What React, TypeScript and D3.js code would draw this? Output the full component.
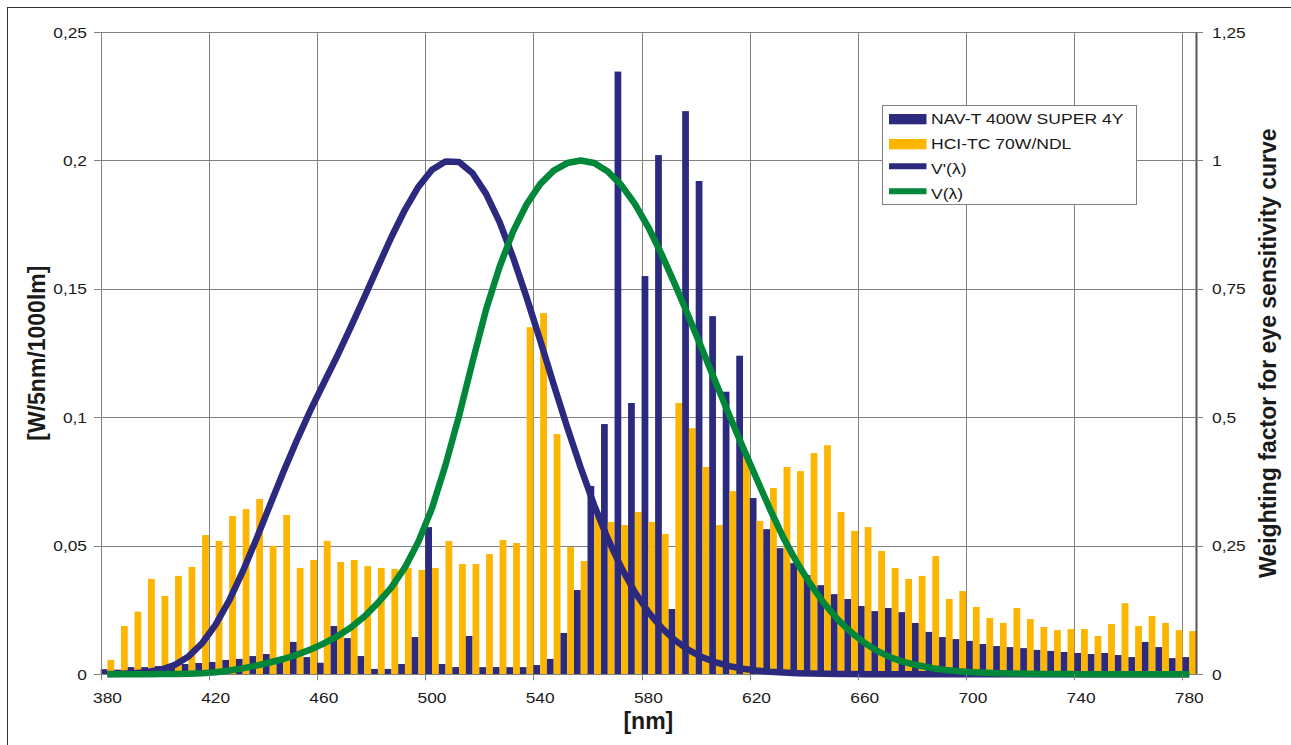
import React from 'react';
import * as d3 from 'd3';

const wavelengths = [
  380, 385, 390, 395, 400, 405, 410, 415, 420, 425, 430, 435, 440, 445, 450, 455, 460, 465, 470, 475,
  480, 485, 490, 495, 500, 505, 510, 515, 520, 525, 530, 535, 540, 545, 550, 555, 560, 565, 570, 575,
  580, 585, 590, 595, 600, 605, 610, 615, 620, 625, 630, 635, 640, 645, 650, 655, 660, 665, 670, 675,
  680, 685, 690, 695, 700, 705, 710, 715, 720, 725, 730, 735, 740, 745, 750, 755, 760, 765, 770, 775, 780,
];

const navT400 = [
  0.002, 0.0018, 0.0028, 0.0028, 0.0032, 0.0036, 0.004, 0.0044, 0.0048, 0.0056, 0.006, 0.0071, 0.0079, 0.0048, 0.0126, 0.0067, 0.0045, 0.0188, 0.0141, 0.0071,
  0.0021, 0.0021, 0.004, 0.0145, 0.0573, 0.004, 0.0028, 0.0149, 0.0028, 0.0028, 0.0028, 0.0028, 0.0036, 0.006, 0.0161, 0.0328, 0.0733, 0.0974, 0.2346, 0.1056,
  0.155, 0.2021, 0.0254, 0.2192, 0.192, 0.1394, 0.11, 0.124, 0.0686, 0.0565, 0.0491, 0.0433, 0.0386, 0.0347, 0.0312, 0.0293, 0.0266, 0.0246, 0.0258, 0.0242,
  0.02, 0.0165, 0.0145, 0.0137, 0.013, 0.0118, 0.011, 0.0106, 0.0102, 0.0095, 0.0091, 0.0087, 0.0083, 0.0079, 0.0083, 0.0075, 0.0067, 0.0126, 0.0106, 0.0063, 0.0067,
];

const hciTC70 = [
  0.0056, 0.0188, 0.0244, 0.0371, 0.0305, 0.0383, 0.0418, 0.0542, 0.0519, 0.0616, 0.0643, 0.0682, 0.05, 0.062, 0.0414, 0.0445, 0.0519, 0.0437, 0.0445, 0.0421,
  0.0414, 0.041, 0.0414, 0.0406, 0.0414, 0.0519, 0.0429, 0.0429, 0.0468, 0.0523, 0.0511, 0.1351, 0.1406, 0.0935, 0.0495, 0.0441, 0.0616, 0.0593, 0.0581, 0.0632,
  0.0593, 0.0546, 0.1056, 0.0958, 0.0807, 0.0581, 0.0713, 0.085, 0.0597, 0.0725, 0.0807, 0.0791, 0.0861, 0.0892, 0.0632, 0.0558, 0.0573, 0.048, 0.0414, 0.0371,
  0.0383, 0.046, 0.0293, 0.0324, 0.0262, 0.0219, 0.02, 0.0258, 0.0215, 0.0184, 0.0172, 0.0176, 0.0176, 0.0149, 0.0196, 0.0277, 0.0188, 0.0227, 0.02, 0.0172, 0.0168,
];

// scotopic V'(λ)
const vPrime = [
  0.000589, 0.001108, 0.002209, 0.00453, 0.00929, 0.01852, 0.03484, 0.0604, 0.0966, 0.1436, 0.1998, 0.2625, 0.3281, 0.3931, 0.455, 0.513, 0.567, 0.62, 0.676, 0.734,
  0.793, 0.851, 0.904, 0.949, 0.982, 0.998, 0.997, 0.975, 0.935, 0.88, 0.811, 0.733, 0.65, 0.564, 0.481, 0.402, 0.3288, 0.2639, 0.2076, 0.1602,
  0.1212, 0.0899, 0.0655, 0.0469, 0.03315, 0.02312, 0.01593, 0.01088, 0.00737, 0.00497, 0.003335, 0.002235, 0.001497, 0.001005, 0.000677, 0.000459, 0.000313, 0.000215, 0.000148, 0.000103,
  0.0000715, 0.0000501, 0.0000353, 0.000025, 0.0000178, 0.0000127, 0.00000914, 0.0000066, 0.00000478, 0.00000346, 0.00000251, 0.00000184, 0.00000135, 0.00000099, 0.00000073, 0.00000054, 0.0000004, 0.0000003, 0.00000022, 0.00000017, 0.00000013,
];

// photopic V(λ)
const vPhot = [
  0.000039, 0.000064, 0.00012, 0.000217, 0.000396, 0.00064, 0.00121, 0.00218, 0.004, 0.0073, 0.0116, 0.01684, 0.023, 0.0298, 0.038, 0.048, 0.06, 0.0739, 0.09098, 0.1126,
  0.13902, 0.1693, 0.20802, 0.2586, 0.323, 0.4073, 0.503, 0.6082, 0.71, 0.7932, 0.862, 0.91485, 0.954, 0.9803, 0.99495, 1.0, 0.995, 0.9786, 0.952, 0.9154,
  0.87, 0.8163, 0.757, 0.6949, 0.631, 0.5668, 0.503, 0.4412, 0.381, 0.321, 0.265, 0.217, 0.175, 0.1382, 0.107, 0.0816, 0.061, 0.04458, 0.032, 0.0232,
  0.017, 0.01192, 0.00821, 0.005723, 0.004102, 0.002929, 0.002091, 0.001484, 0.001047, 0.00074, 0.00052, 0.000361, 0.000249, 0.000172, 0.00012, 0.0000848, 0.00006, 0.0000424, 0.00003, 0.0000212, 0.000015,
];

const xTickValues = [380, 420, 460, 500, 540, 580, 620, 660, 700, 740, 780];
const yLeftTicks = [0, 0.05, 0.1, 0.15, 0.2, 0.25];
const yLeftLabels = ['0', '0,05', '0,1', '0,15', '0,2', '0,25'];
const yRightTicks = [0, 0.25, 0.5, 0.75, 1, 1.25];
const yRightLabels = ['0', '0,25', '0,5', '0,75', '1', '1,25'];

const legendLabels = ['NAV-T 400W SUPER 4Y', 'HCI-TC 70W/NDL', "V'(λ)", 'V(λ)'];

const NAVY = '#2b2a7e';
const ORANGE = '#fcb500';
const GREEN = '#00873a';
const GRID = '#808080';
const FONT = "Arial, 'Liberation Sans', Helvetica, sans-serif";

const W = 1291;
const H = 745;
const L = 100.7;
const R = 1196;
const TOP = 32;
const BOT = 674.3;

type TProps = {
  x: number; y: number; anchor?: string; size?: number; sx?: number; weight?: string | number; rotate?: number; children: React.ReactNode;
};
const T = ({ x, y, anchor = 'start', size = 15.5, sx = 1.12, weight = 'normal', rotate = 0, children }: TProps) => (
  <text
    transform={`translate(${x},${y}) rotate(${rotate}) scale(${sx},1)`}
    textAnchor={anchor as any}
    fontSize={size}
    fontWeight={weight as any}
    fontFamily={FONT}
    fill="#1a1a1a"
  >
    {children}
  </text>
);

export default function App() {
  const x = d3.scaleBand<number>().domain(wavelengths).range([L, R]).paddingInner(0).paddingOuter(0);
  const bw = x.bandwidth();
  const y = d3.scaleLinear().domain([0, 0.25]).range([BOT, TOP]);
  const y2 = d3.scaleLinear().domain([0, 1.25]).range([BOT, TOP]);

  const lineGen = d3
    .line<number>()
    .x((_, i) => (x(wavelengths[i]) as number) + bw / 2)
    .y((d) => y2(d));

  const legendX = 882.5;
  const legendY = 105.5;

  return (
    <svg width={W} height={H} style={{ position: 'absolute', left: 0, top: 0, background: '#fff' }}>
      <rect x={0} y={0} width={W} height={H} fill="#fff" />
      {/* outer chart border */}
      <rect x={7.5} y={7.5} width={W + 20} height={H + 20} fill="none" stroke="#333" strokeWidth={1} />

      {/* horizontal gridlines */}
      {yLeftTicks.slice(1).map((t) => (
        <line key={'hg' + t} x1={L} x2={R} y1={Math.round(y(t)) + 0.5} y2={Math.round(y(t)) + 0.5} stroke={GRID} strokeWidth={1} />
      ))}
      {/* vertical gridlines */}
      {xTickValues.slice(1).map((w) => {
        const px = Math.round(x(w) as number) + 0.5;
        return <line key={'vg' + w} x1={px} x2={px} y1={TOP} y2={BOT} stroke={GRID} strokeWidth={1} />;
      })}

      {/* bars */}
      {wavelengths.map((w, i) => {
        const x0 = x(w) as number;
        return (
          <g key={'b' + w}>
            <rect x={x0} y={y(navT400[i])} width={bw / 2} height={BOT - y(navT400[i])} fill={NAVY} />
            <rect x={x0 + bw / 2} y={y(hciTC70[i])} width={bw / 2} height={BOT - y(hciTC70[i])} fill={ORANGE} />
          </g>
        );
      })}

      {/* axes */}
      <line x1={Math.round(L) + 0.5} x2={Math.round(L) + 0.5} y1={TOP} y2={BOT} stroke={GRID} strokeWidth={1} />
      <line x1={R + 0.5} x2={R + 0.5} y1={TOP} y2={BOT + 0.5} stroke="#555" strokeWidth={2} />
      <line x1={L} x2={R} y1={Math.round(BOT) + 0.5} y2={Math.round(BOT) + 0.5} stroke={GRID} strokeWidth={1} />

      {/* curves */}
      <path d={lineGen(vPrime) || ''} fill="none" stroke={NAVY} strokeWidth={6.5} strokeLinejoin="round" strokeLinecap="butt" />
      <path d={lineGen(vPhot) || ''} fill="none" stroke={GREEN} strokeWidth={6.5} strokeLinejoin="round" strokeLinecap="butt" />

      {/* left ticks & labels */}
      {yLeftTicks.map((t, i) => (
        <g key={'yl' + t}>
          <line x1={94} x2={L} y1={Math.round(y(t)) + 0.5} y2={Math.round(y(t)) + 0.5} stroke={GRID} strokeWidth={1} />
          <T x={87} y={y(t) + 5.5} anchor="end">{yLeftLabels[i]}</T>
        </g>
      ))}
      {/* right ticks & labels */}
      {yRightTicks.map((t, i) => (
        <g key={'yr' + t}>
          <line x1={R} x2={1203} y1={Math.round(y2(t)) + 0.5} y2={Math.round(y2(t)) + 0.5} stroke={GRID} strokeWidth={1} />
          <T x={1212} y={y2(t) + 5.5} anchor="start">{yRightLabels[i]}</T>
        </g>
      ))}
      {/* x ticks & labels */}
      {xTickValues.map((w) => {
        const px = Math.round(x(w) as number) + 0.5;
        return (
          <g key={'xt' + w}>
            <line x1={px} x2={px} y1={BOT} y2={BOT + 6} stroke={GRID} strokeWidth={1} />
            <T x={(x(w) as number) + bw / 2} y={703.3} anchor="middle">{String(w)}</T>
          </g>
        );
      })}

      {/* axis titles */}
      <T x={(L + R) / 2} y={729} anchor="middle" size={23} sx={1} weight="bold">[nm]</T>
      <T x={45} y={(TOP + BOT) / 2} anchor="middle" size={23} sx={1} weight="bold" rotate={-90}>[W/5nm/1000lm]</T>
      <T x={1276} y={(TOP + BOT) / 2} anchor="middle" size={23} sx={1} weight="bold" rotate={-90}>Weighting factor for eye sensitivity curve</T>

      {/* legend */}
      <rect x={legendX} y={legendY} width={254} height={99} fill="#fff" stroke={GRID} strokeWidth={1} />
      <rect x={889} y={114} width={37.5} height={10.3} fill={NAVY} />
      <rect x={889} y={139} width={37.5} height={10.3} fill={ORANGE} />
      <line x1={889} x2={926.5} y1={166.2} y2={166.2} stroke={NAVY} strokeWidth={6} />
      <line x1={889} x2={926.5} y1={191.3} y2={191.3} stroke={GREEN} strokeWidth={6} />
      {legendLabels.map((lab, i) => (
        <T key={lab} x={931} y={124.3 + i * 24.9} anchor="start" size={15.4} sx={1.14}>{lab}</T>
      ))}
    </svg>
  );
}
